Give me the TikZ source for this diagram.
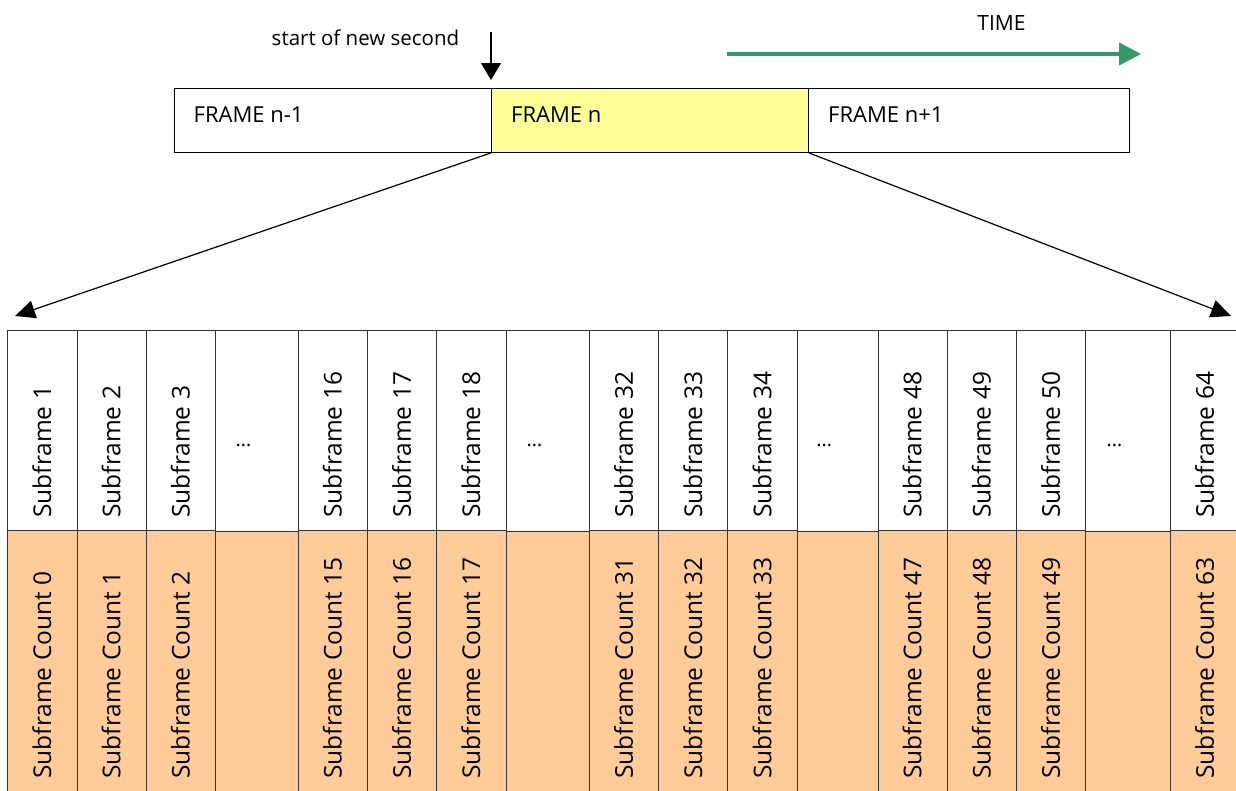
\documentclass[tikz,border=0pt]{standalone}
\usepackage{fontspec}
\setmainfont{Open Sans}
\usetikzlibrary{arrows.meta}
\definecolor{suborange}{HTML}{FFCC99}
\definecolor{frameyellow}{HTML}{FFFF99}
\definecolor{timegreen}{HTML}{339966}
\begin{document}
\begin{tikzpicture}[x=1pt,y=-1pt,
  framebox/.style={draw=black, line width=0.9pt, minimum height=64pt, inner sep=0pt, anchor=north west},
  framelabel/.style={anchor=base west, inner sep=0pt, font=\fontsize{22}{26}\selectfont},
  subtop/.style={draw=black!80, line width=1pt, fill=white, minimum height=200pt, inner sep=0pt, anchor=north west},
  gaptop/.style={draw=black!80, line width=1pt, fill=white, minimum height=201pt, inner sep=0pt, anchor=north west},
  subbot/.style={draw=black!80, line width=1pt, fill=suborange, minimum height=280pt, inner sep=0pt, anchor=north west},
  sublabel/.style={rotate=90, anchor=west, inner sep=0pt, font=\fontsize{24.5}{28}\selectfont},
  dotlabel/.style={inner sep=0pt, font=\fontsize{20}{24}\selectfont},
  plainlabel/.style={inner sep=0pt, anchor=base, font=\fontsize{20.5}{24}\selectfont},
  diag/.style={line width=1.2pt, -{Triangle[length=20pt,width=18pt]}},
  marker/.style={line width=1.2pt, -{Triangle[length=17pt,width=20pt]}},
  timearrow/.style={draw=timegreen, line width=4pt, -{Triangle[length=22pt,width=22pt]}}
]
\useasboundingbox (0,0) rectangle (1236,790);

% top frames
\node[framebox, minimum width=317pt] (fprev) at (174,88) {};
\node[framebox, fill=frameyellow, minimum width=317pt] (fn) at (491,88) {};
\node[framebox, minimum width=321pt] (fnext) at (808,88) {};
\node[framelabel] (lprev) at (193.5,122) {FRAME n-1};
\node[framelabel] (ln) at (511,122) {FRAME n};
\node[framelabel] (lnext) at (828,122) {FRAME n+1};

% start of new second
\node[plainlabel] (startlbl) at (365.5,45) {start of new second};
\coordinate (mstart) at (491,32);
\coordinate (mend) at (491,80);
\draw[marker] (mstart) -- (mend);

% time
\node[plainlabel, font=\fontsize{21}{24}\selectfont] (timelbl) at (1001.5,30) {TIME};
\coordinate (tstart) at (727,54);
\coordinate (tend) at (1141,54);
\draw[timearrow] (tstart) -- (tend);

% subframe columns
\foreach \l/\r/\a/\b in {7/76.7/1/0, 76.7/145.7/2/1, 145.7/215/3/2,
  297.7/367/16/15, 367/436/17/16, 436/505.7/18/17,
  589/658.3/32/31, 658.3/727.3/33/32, 727.3/796.7/34/33,
  877.7/946.7/48/47, 946.7/1016/49/48, 1016/1085/50/49,
  1170/1239/64/63}{
  \node[subtop, minimum width={(\r-\l)*1pt}] (sf\a) at (\l,330) {};
  \node[subbot, minimum width={(\r-\l)*1pt}] (sc\b) at (\l,530) {};
  \node[sublabel] (sfl\a) at ({(\l+\r)/2},518) {Subframe \a};
  \node[sublabel] (scl\b) at ({(\l+\r)/2},779) {Subframe Count \b};
}
\foreach \l/\r [count=\i] in {215/297.7, 505.7/589, 796.7/877.7, 1085/1170}{
  \node[gaptop, minimum width={(\r-\l)*1pt}] (gap\i) at (\l,330) {};
  \node[subbot, minimum width={(\r-\l)*1pt}] (gapb\i) at (\l,531) {};
  \node[dotlabel] (dots\i) at ({(\l+\r)/2-13},445) {…};
}

% expansion arrows
\coordinate (ltip) at (15,316);
\coordinate (rtip) at (1231,316);
\draw[diag] (fn.south west) -- (ltip);
\draw[diag] (fn.south east) -- (rtip);
\end{tikzpicture}
\end{document}
